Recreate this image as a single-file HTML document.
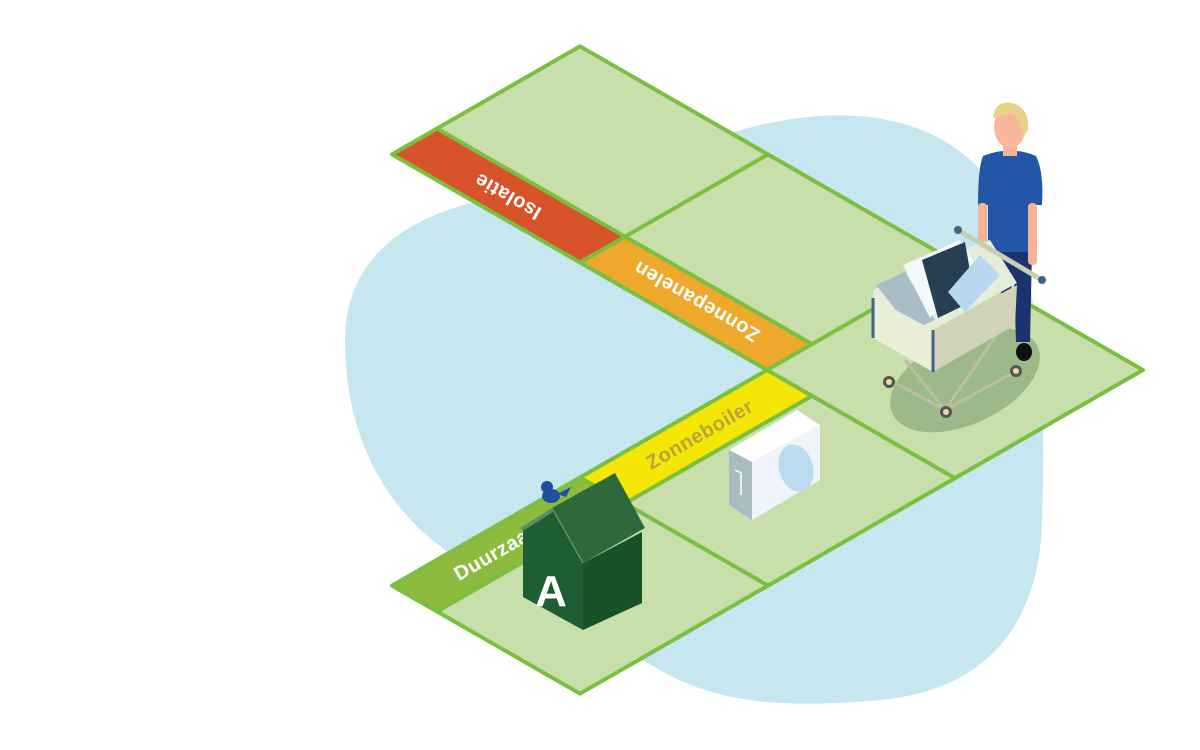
<!DOCTYPE html>
<html><head><meta charset="utf-8"><style>
html,body{margin:0;padding:0;background:#fff;}
svg{display:block;}
text{font-family:"Liberation Sans",sans-serif;font-weight:bold;}
</style></head><body>
<svg width="1200" height="750" viewBox="0 0 1200 750" xmlns="http://www.w3.org/2000/svg">
<!-- blob -->
<path d="M800,118 C900,105 985,140 1015,230 C1045,320 1045,420 1042,520 C1040,620 990,690 880,700 C790,708 720,705 660,670 C590,630 520,600 460,560 C380,510 345,430 345,340 C345,250 420,205 520,195 C620,185 700,130 800,118 Z" fill="#c6e7ef"/>
<!-- board fill -->
<polygon points="580,46.3 1143,370 955,478.1 580,693.7 392,585.6 767,370 392,154.4" fill="#c8dfab"/>
<!-- stripes -->
<polygon points="392,154.4 437,128.5 625,236.6 580,262.5" fill="#d9532a"/>
<polygon points="580,262.5 625,236.6 812,344.1 767,370" fill="#eea82b"/>
<polygon points="767,370 812,395.9 625,503.4 580,477.5" fill="#f5e608"/>
<polygon points="580,477.5 625,503.4 437,611.5 392,585.6" fill="#8cbb3d"/>
<!-- shadow under cart -->
<ellipse cx="965" cy="380" rx="80" ry="44" transform="rotate(-25 965 380)" fill="#9db98a"/>
<!-- grid lines -->
<g stroke="#7abf3f" stroke-width="4" fill="none" stroke-linejoin="round">
<polygon points="580,46.3 1143,370 955,478.1 580,693.7 392,585.6 767,370 392,154.4"/>
<line x1="437" y1="128.5" x2="812" y2="344.1"/>
<line x1="580" y1="262.5" x2="768" y2="154.4"/>
<line x1="767" y1="370" x2="955" y2="261.9"/>
<line x1="767" y1="370" x2="955" y2="478.1"/>
<line x1="812" y1="395.9" x2="437" y2="611.5"/>
<line x1="580" y1="477.5" x2="768" y2="585.6"/>
</g>
<!-- labels -->
<text x="508" y="196" font-size="20" fill="#fff" text-anchor="middle" dominant-baseline="central" letter-spacing="0.5" transform="rotate(210 508 196)">Isolatie</text>
<text x="697" y="301" font-size="20" fill="#fff" text-anchor="middle" dominant-baseline="central" letter-spacing="0.5" transform="rotate(210 697 301)">Zonnepanelen</text>
<text x="700" y="435" font-size="20" fill="#b8a434" text-anchor="middle" dominant-baseline="central" letter-spacing="0.5" transform="rotate(-30 700 435)">Zonneboiler</text>
<text x="456" y="576" font-size="20" fill="#fff" dominant-baseline="central" letter-spacing="0.5" transform="rotate(-30 456 576)">Duurzaam</text>
<!-- boiler -->
<polygon points="729,450 797,410 820,425 752,462" fill="#ffffff"/>
<polygon points="729,450 752,462 752,520 729,505" fill="#a9bcc4"/>
<polygon points="752,462 820,425 820,480 752,520" fill="#eef4fa"/>
<ellipse cx="796" cy="468" rx="17" ry="24" transform="rotate(-15 796 468)" fill="#bcdcf2"/>
<path d="M735,470 l6,3 v22" stroke="#fff" stroke-width="1.5" fill="none"/>
<!-- house -->
<polygon points="523,527 552,508 583,563 583,630 523,597" fill="#1e5e33"/>
<polygon points="583,563 642,532 642,603 583,630" fill="#175128"/>
<polygon points="552,508 615,473 645,528 583,563" fill="#2c6a3e"/>
<polygon points="520,528 552,508 553,512 523,531" fill="#5f8f5f"/>
<line x1="552" y1="508" x2="583" y2="563" stroke="#5f8f5f" stroke-width="1.5"/>
<text x="551" y="606" font-size="44" fill="#fff" text-anchor="middle" font-family="Liberation Sans" font-weight="bold">A</text>
<!-- bird -->
<ellipse cx="551" cy="496" rx="9" ry="7" fill="#1f4fa0"/>
<circle cx="547" cy="487" r="6" fill="#1f4fa0"/>
<path d="M557,494 l14,-7 l-5,10 z" fill="#1f4fa0"/>
<!-- person -->
<path d="M988,250 h44 l-2,92 h-14 l-2,-60 l-10,20 z" fill="#1c3370"/>
<ellipse cx="1024" cy="352" rx="8" ry="9" fill="#111"/>
<path d="M983,156 Q1010,145 1036,156 Q1044,172 1042,205 L1032,205 L1032,252 L988,252 L988,205 L978,205 Q978,168 983,156 Z" fill="#2456a8"/>
<rect x="978" y="203" width="9" height="50" rx="4" fill="#f4b596"/>
<rect x="1028" y="203" width="9" height="62" rx="4" fill="#f4b596"/>
<rect x="1003" y="140" width="14" height="16" fill="#f4b596"/>
<ellipse cx="1010" cy="127" rx="16" ry="21" fill="#f7b79a"/>
<path d="M993,118 Q995,100 1012,103 Q1030,108 1028,130 L1022,140 Q1024,118 1010,113 Q998,116 993,118Z" fill="#e8d28a"/>
<!-- cart -->
<g stroke="#b9c09a" stroke-width="3" fill="none">
<line x1="890" y1="380" x2="945" y2="410"/><line x1="945" y1="410" x2="1018" y2="370"/>
<line x1="905" y1="360" x2="945" y2="410"/><line x1="1000" y1="330" x2="945" y2="410"/>
</g>
<circle cx="889" cy="382" r="6" fill="#555"/><circle cx="889" cy="382" r="3" fill="#e9d9b0"/>
<circle cx="946" cy="412" r="6" fill="#555"/><circle cx="946" cy="412" r="3" fill="#e9d9b0"/>
<circle cx="1016" cy="371" r="6" fill="#555"/><circle cx="1016" cy="371" r="3" fill="#e9d9b0"/>
<polygon points="873,290 932,262 975,245 990,240 1017,283 933,330 873,298" fill="#e6ecd8"/>
<polygon points="876,285 905,272 935,320 912,330" fill="#a9bdc6"/>
<polygon points="903,265 960,240 980,270 930,318" fill="#f5f8fa"/>
<polygon points="922,260 965,242 975,300 938,318" fill="#263f52"/>
<polygon points="948,292 980,255 1000,275 965,312" fill="#b8d8f0"/>
<polygon points="873,298 933,330 933,372 873,338" fill="#e9efd6"/>
<polygon points="933,330 1017,285 1015,325 933,372" fill="#d0d3b9"/>
<g stroke="#3f6682" stroke-width="3" fill="none">
<line x1="873" y1="298" x2="873" y2="338"/><line x1="933" y1="330" x2="933" y2="372"/>
</g>
<line x1="958" y1="230" x2="1042" y2="280" stroke="#c9cfae" stroke-width="5"/>
<circle cx="958" cy="230" r="4" fill="#3f6682"/><circle cx="1042" cy="280" r="4" fill="#3f6682"/>
</svg>
</body></html>
